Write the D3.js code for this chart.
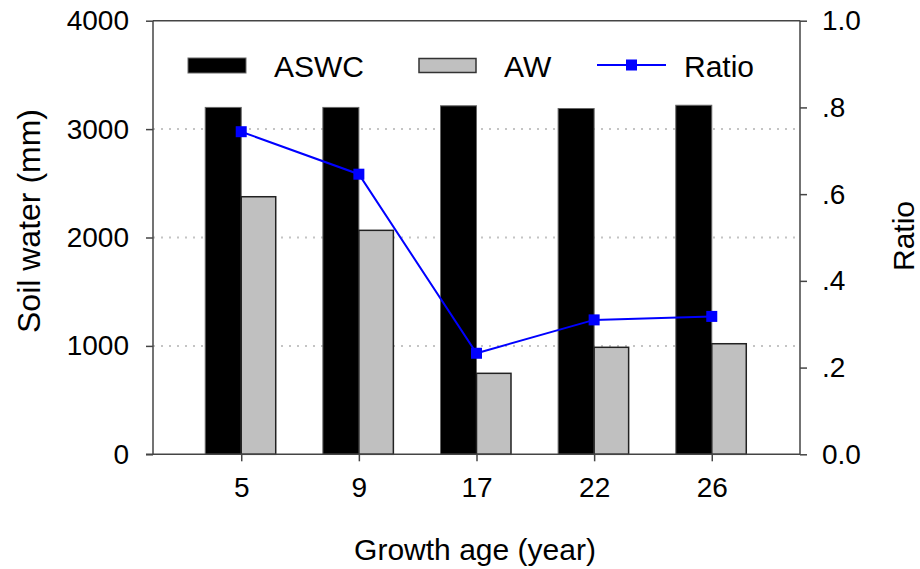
<!DOCTYPE html>
<html>
<head>
<meta charset="utf-8">
<script src="https://cdn.jsdelivr.net/npm/d3@7"></script>
<style>
  html, body { margin: 0; padding: 0; background: #fff; }
  svg { display: block; font-family: "Liberation Sans", Arial, sans-serif; }
</style>
</head>
<body>
<svg id="chart" width="920" height="569"></svg>
<script>
// Growth ages of the stands
const ages = ["5", "9", "17", "22", "26"];
// Available soil water content (mm)
const aswc = [3200, 3200, 3215, 3190, 3220];
// Available water (mm)
const aw = [2376, 2066, 747, 987, 1020];
// AW / ASWC ratio
const ratio = [0.744, 0.646, 0.233, 0.310, 0.318];

const leftTicks = [0, 1000, 2000, 3000, 4000];
const rightTicks = [0, 0.2, 0.4, 0.6, 0.8, 1.0];
const gridTicks = [1000, 2000, 3000];

const svg = d3.select("#chart");
const margin = { left: 153, top: 20.7, right: 120, bottom: 114.7 };
const W = 920 - margin.left - margin.right;   // 647
const H = 569 - margin.top - margin.bottom;   // 433.6

const g = svg.append("g").attr("transform", `translate(${margin.left},${margin.top})`);

const x = d3.scaleLinear().domain([0.25, 5.75]).range([0, W]);
const yL = d3.scaleLinear().domain([0, 4000]).range([H, 0]);
const yR = d3.scaleLinear().domain([0, 1]).range([H, 0]);

const barW = 36;
const axisColor = "#444";

// dotted reference lines
g.selectAll(".grid").data(gridTicks).enter().append("line")
  .attr("x1", 0).attr("x2", W)
  .attr("y1", d => yL(d)).attr("y2", d => yL(d))
  .attr("stroke", "#c4c4c4").attr("stroke-width", 2)
  .attr("stroke-dasharray", "2 6");

// ASWC bars
g.selectAll(".aswc").data(aswc).enter().append("rect")
  .attr("x", (d, i) => x(i + 1) - barW)
  .attr("y", d => yL(d))
  .attr("width", barW)
  .attr("height", d => H - yL(d))
  .attr("fill", "#000").attr("stroke", "#666").attr("stroke-width", 1);

// AW bars
g.selectAll(".aw").data(aw).enter().append("rect")
  .attr("x", (d, i) => x(i + 1))
  .attr("y", d => yL(d))
  .attr("width", barW - 1.5)
  .attr("height", d => H - yL(d))
  .attr("fill", "#c0c0c0").attr("stroke", "#222").attr("stroke-width", 1.5);

// Ratio line with square markers
const line = d3.line().x((d, i) => x(i + 1)).y(d => yR(d));
g.append("path").datum(ratio)
  .attr("d", line).attr("fill", "none")
  .attr("stroke", "#0000ff").attr("stroke-width", 2);
const ms = 11;
g.selectAll(".mk").data(ratio).enter().append("rect")
  .attr("x", (d, i) => x(i + 1) - ms / 2)
  .attr("y", d => yR(d) - ms / 2)
  .attr("width", ms).attr("height", ms)
  .attr("fill", "#0000ff");

// frame: top line
g.append("line").attr("x1", 0).attr("x2", W).attr("y1", 0).attr("y2", 0)
  .attr("stroke", axisColor).attr("stroke-width", 1.5);

// axes
const axL = d3.axisLeft(yL).tickValues(leftTicks).tickSize(7).tickPadding(17)
  .tickFormat(d3.format("d"));
const axR = d3.axisRight(yR).tickValues(rightTicks).tickSize(7).tickPadding(15)
  .tickFormat(d => d === 0 ? "0.0" : d === 1 ? "1.0" : d3.format(".1f")(d).replace(/^0/, ""));
const axB = d3.axisBottom(x).tickValues([1, 2, 3, 4, 5]).tickSize(7).tickPadding(16)
  .tickFormat((d, i) => ages[i]);

function styleAxis(sel) {
  sel.select(".domain").attr("stroke", axisColor).attr("stroke-width", 1.5);
  sel.selectAll(".tick line").attr("stroke", axisColor).attr("stroke-width", 1.5);
  sel.selectAll(".tick text").attr("fill", "#000").attr("font-size", 28)
    .attr("font-family", "'Liberation Sans', Arial, sans-serif");
}

g.append("g").call(axL).call(styleAxis)
  .call(s => s.select(".domain").attr("d", `M0,${H}V0`));
g.append("g").attr("transform", `translate(${W},0)`).call(axR).call(styleAxis)
  .call(s => s.select(".domain").attr("d", `M0,${H}V0`));
g.append("g").attr("transform", `translate(0,${H})`).call(axB).call(styleAxis)
  .call(s => s.select(".domain").attr("d", `M-7,0H${W}`));

// axis titles
svg.append("text")
  .attr("transform", `translate(40,221) rotate(-90)`)
  .attr("text-anchor", "middle").attr("font-size", 32).attr("fill", "#000")
  .text("Soil water (mm)");
svg.append("text")
  .attr("transform", `translate(914,236) rotate(-90)`)
  .attr("text-anchor", "middle").attr("font-size", 30).attr("fill", "#000")
  .text("Ratio");
svg.append("text")
  .attr("x", 475).attr("y", 560)
  .attr("text-anchor", "middle").attr("font-size", 30).attr("fill", "#000")
  .text("Growth age (year)");

// legend
const legend = svg.append("g");
legend.append("rect").attr("x", 188).attr("y", 58).attr("width", 58).attr("height", 15)
  .attr("fill", "#000").attr("stroke", "#666").attr("stroke-width", 1);
legend.append("text").attr("x", 274).attr("y", 77).attr("font-size", 30).text("ASWC");
legend.append("rect").attr("x", 419).attr("y", 58.5).attr("width", 57).attr("height", 14)
  .attr("fill", "#c0c0c0").attr("stroke", "#333").attr("stroke-width", 1.5);
legend.append("text").attr("x", 504).attr("y", 77).attr("font-size", 30).text("AW");
legend.append("line").attr("x1", 597).attr("x2", 666).attr("y1", 65).attr("y2", 65)
  .attr("stroke", "#0000ff").attr("stroke-width", 2);
legend.append("rect").attr("x", 626).attr("y", 59.5).attr("width", 11).attr("height", 11)
  .attr("fill", "#0000ff");
legend.append("text").attr("x", 684).attr("y", 77).attr("font-size", 30).text("Ratio");
</script>
</body>
</html>
